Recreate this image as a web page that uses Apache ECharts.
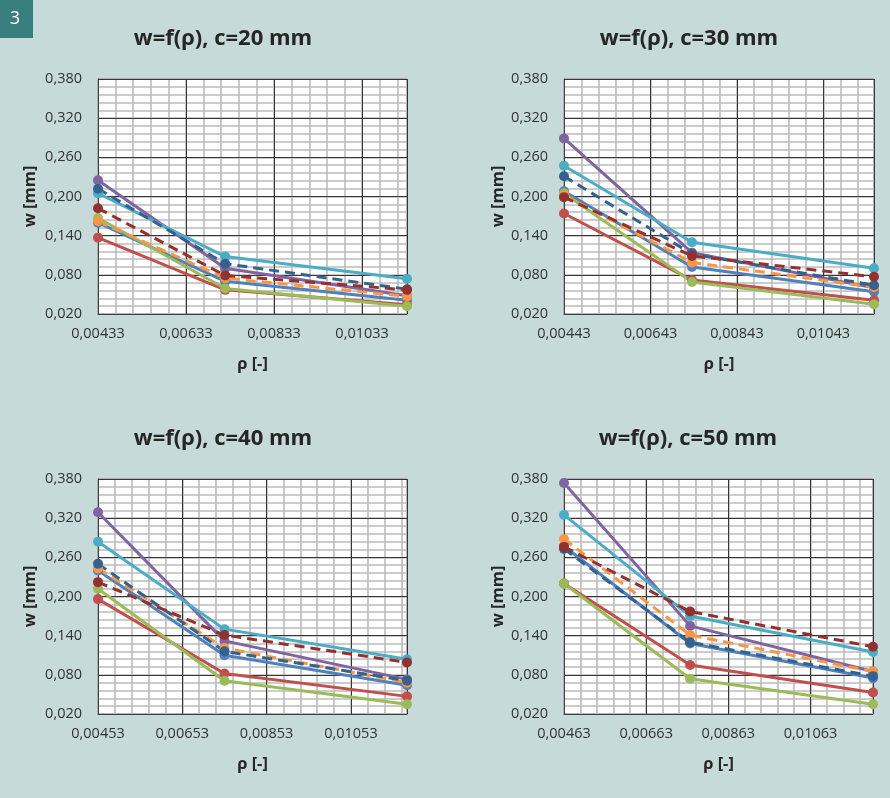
<!DOCTYPE html>
<html><head><meta charset="utf-8">
<script src="https://cdn.jsdelivr.net/npm/echarts@6/dist/echarts.min.js"></script>
<style>html,body{margin:0;padding:0;background:#C6DAD9}#c{width:890px;height:798px}</style>
</head><body><div id="c"></div>
<script>
// ---------- data ----------
const panelTitles = ['w=f(ρ), c=20 mm', 'w=f(ρ), c=30 mm', 'w=f(ρ), c=40 mm', 'w=f(ρ), c=50 mm'];
const xAxisName = 'ρ [-]';
const yAxisName = 'w [mm]';
const rho20 = [0.00433, 0.00722, 0.01135];
const rho30 = [0.00443, 0.00739, 0.01160];
const rho40 = [0.00453, 0.00753, 0.01186];
const rho50 = [0.00463, 0.00770, 0.01215];
const seriesNames = ['S1', 'S2', 'S3', 'S4', 'S5', 'S6', 'S7', 'S8'];
const yMin = 0.020, yMax = 0.380, yMajor = 0.060, yMinor = 0.012;
const xMajor = 0.002, xMinor = 0.0004;

// c = 20 mm
const c20_s1 = [0.160, 0.070, 0.041];
const c20_s2 = [0.137, 0.057, 0.034];
const c20_s3 = [0.167, 0.059, 0.032];
const c20_s4 = [0.225, 0.090, 0.048];
const c20_s5 = [0.205, 0.108, 0.074];
const c20_s6 = [0.162, 0.075, 0.047];
const c20_s7 = [0.212, 0.097, 0.058];
const c20_s8 = [0.182, 0.079, 0.057];
// c = 30 mm
const c30_s1 = [0.208, 0.092, 0.054];
const c30_s2 = [0.174, 0.072, 0.041];
const c30_s3 = [0.205, 0.069, 0.035];
const c30_s4 = [0.289, 0.114, 0.060];
const c30_s5 = [0.247, 0.130, 0.090];
const c30_s6 = [0.202, 0.099, 0.061];
const c30_s7 = [0.231, 0.112, 0.064];
const c30_s8 = [0.199, 0.109, 0.077];
// c = 40 mm
const c40_s1 = [0.240, 0.110, 0.064];
const c40_s2 = [0.196, 0.082, 0.047];
const c40_s3 = [0.212, 0.071, 0.035];
const c40_s4 = [0.329, 0.132, 0.073];
const c40_s5 = [0.284, 0.150, 0.104];
const c40_s6 = [0.243, 0.121, 0.068];
const c40_s7 = [0.250, 0.116, 0.071];
const c40_s8 = [0.222, 0.141, 0.099];
// c = 50 mm
const c50_s1 = [0.277, 0.128, 0.075];
const c50_s2 = [0.220, 0.095, 0.053];
const c50_s3 = [0.220, 0.074, 0.035];
const c50_s4 = [0.374, 0.155, 0.085];
const c50_s5 = [0.325, 0.170, 0.115];
const c50_s6 = [0.288, 0.141, 0.085];
const c50_s7 = [0.273, 0.130, 0.078];
const c50_s8 = [0.276, 0.177, 0.123];

const panelRho = [rho20, rho30, rho40, rho50];
const panelSeries = [
  [c20_s1, c20_s2, c20_s3, c20_s4, c20_s5, c20_s6, c20_s7, c20_s8],
  [c30_s1, c30_s2, c30_s3, c30_s4, c30_s5, c30_s6, c30_s7, c30_s8],
  [c40_s1, c40_s2, c40_s3, c40_s4, c40_s5, c40_s6, c40_s7, c40_s8],
  [c50_s1, c50_s2, c50_s3, c50_s4, c50_s5, c50_s6, c50_s7, c50_s8]
];

// ---------- styles / layout ----------
const colors = ['#4F81BD', '#C0504D', '#9BBB59', '#8064A2', '#4BACC6', '#F79646', '#33628F', '#93312F'];
const dashed = [false, false, false, false, false, true, true, true];
const gridsPos = [
  {left: 98, top: 79, width: 309, height: 235, titleX: 223, titleY: 39, yNameX: 29},
  {left: 564, top: 79, width: 310, height: 235, titleX: 689, titleY: 39, yNameX: 497},
  {left: 98, top: 479, width: 309, height: 235, titleX: 223, titleY: 439, yNameX: 29},
  {left: 564, top: 479, width: 309, height: 235, titleX: 688, titleY: 439, yNameX: 497}
];
const FONT = '"Open Sans", "Noto Sans", sans-serif';
const fmtY = v => v.toFixed(3).replace('.', ',');
const fmtX = v => v.toFixed(5).replace('.', ',');

const grid = [], xAxis = [], yAxis = [], series = [], graphic = [];
gridsPos.forEach((g, i) => {
  const rho = panelRho[i];
  const xmin = rho[0], xmax = rho[rho.length - 1];
  grid.push({left: g.left, top: g.top, width: g.width, height: g.height, show: true,
    containLabel: false, outerBoundsMode: 'none',
    backgroundColor: '#fff', borderColor: '#404040', borderWidth: 1, z: 0});
  // minor x
  xAxis.push({type: 'value', gridIndex: i, position: 'bottom', offset: 0, min: xmin, max: xmax, interval: xMinor, z: 1,
    axisLine: {show: false, onZero: false}, axisTick: {show: false}, axisLabel: {show: false},
    splitLine: {show: true, lineStyle: {color: '#BBBBBB', width: 1.6}}});
  // major x
  xAxis.push({type: 'value', gridIndex: i, position: 'bottom', offset: 0, min: xmin, max: xmax, interval: xMajor, z: 2,
    name: xAxisName, nameLocation: 'middle', nameGap: 42,
    nameTextStyle: {fontFamily: FONT, fontSize: 16.5, fontWeight: 'bold', color: '#262626'},
    axisLine: {show: true, onZero: false, lineStyle: {color: '#404040', width: 1}}, axisTick: {show: false},
    axisLabel: {show: true, formatter: fmtX, showMaxLabel: false, margin: 12,
      fontFamily: FONT, fontSize: 14.5, color: '#333'},
    splitLine: {show: true, lineStyle: {color: '#363636', width: 1}}});
  // minor y
  yAxis.push({type: 'value', gridIndex: i, position: 'left', offset: 0, min: yMin, max: yMax, interval: yMinor, z: 1,
    axisLine: {show: false, onZero: false}, axisTick: {show: false}, axisLabel: {show: false},
    splitLine: {show: true, lineStyle: {color: '#BBBBBB', width: 1.6}}});
  // major y
  yAxis.push({type: 'value', gridIndex: i, position: 'left', offset: 0, min: yMin, max: yMax, interval: yMajor, z: 2,
    name: yAxisName, nameLocation: 'middle', nameGap: g.left - g.yNameX - 10, nameRotate: 90,
    nameTextStyle: {fontFamily: FONT, fontSize: 16.5, fontWeight: 'bold', color: '#262626'},
    axisLine: {show: true, onZero: false, lineStyle: {color: '#404040', width: 1}}, axisTick: {show: false},
    axisLabel: {show: true, formatter: fmtY, margin: 16, fontFamily: FONT, fontSize: 14.5, color: '#333'},
    splitLine: {show: true, lineStyle: {color: '#363636', width: 1}}});
  panelSeries[i].forEach((vals, k) => {
    series.push({
      name: seriesNames[k], type: 'line', xAxisIndex: 2 * i + 1, yAxisIndex: 2 * i + 1, z: 3,
      data: vals.map((v, j) => [rho[j], v]),
      symbol: 'circle', symbolSize: 10, showSymbol: true,
      lineStyle: {color: colors[k], width: 3, type: dashed[k] ? [10, 6] : 'solid'},
      itemStyle: {color: colors[k]},
      emphasis: {disabled: true}, animation: false
    });
  });
  graphic.push({type: 'text', x: g.titleX, y: g.titleY, z: 10,
    style: {text: panelTitles[i], font: 'bold 22px ' + FONT, fill: '#262626', textAlign: 'center', textVerticalAlign: 'middle'}});
});
// badge
graphic.push({type: 'rect', shape: {x: 0, y: 0, width: 33, height: 38}, style: {fill: '#387E7F'}, z: 10});
graphic.push({type: 'text', x: 15, y: 19, z: 11,
  style: {text: '3', font: '18px ' + FONT, fill: '#fff', textAlign: 'center', textVerticalAlign: 'middle'}});

const chart = echarts.init(document.getElementById('c'), null, {renderer: 'canvas'});
chart.setOption({backgroundColor: '#C6DAD9', animation: false, grid, xAxis, yAxis, series, graphic});
</script></body></html>
